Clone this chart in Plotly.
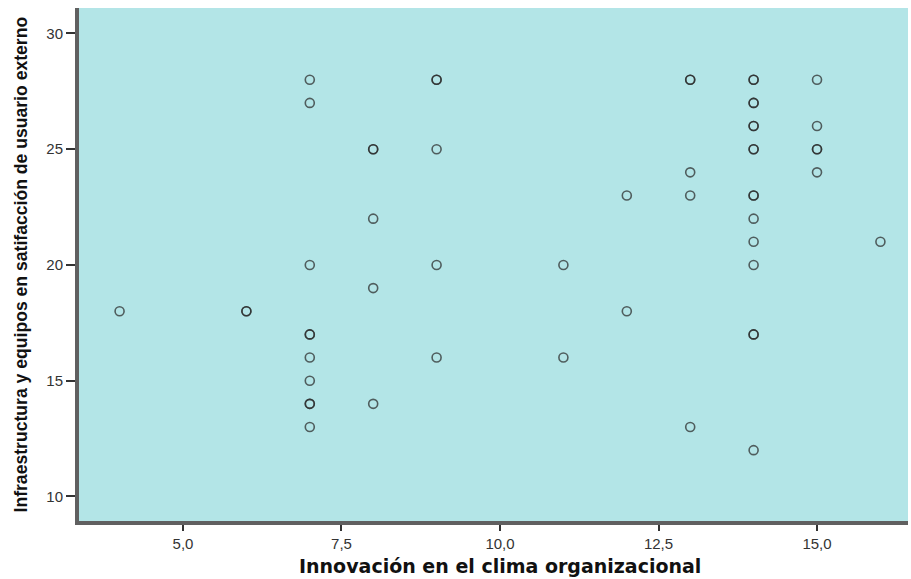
import plotly.graph_objects as go

innovacion = [4, 6, 6,
              7, 7, 7, 7, 7, 7, 7, 7, 7, 7,
              8, 8, 8, 8, 8,
              9, 9, 9, 9, 9,
              11, 11,
              12, 12,
              13, 13, 13, 13, 13,
              14, 14, 14, 14, 14, 14, 14, 14, 14, 14, 14, 14, 14, 14, 14, 14,
              15, 15, 15, 15, 15,
              16]
infraestructura = [18, 18, 18,
                   28, 27, 20, 17, 17, 16, 15, 14, 14, 13,
                   25, 25, 22, 19, 14,
                   28, 28, 25, 20, 16,
                   20, 16,
                   23, 18,
                   28, 28, 24, 23, 13,
                   28, 28, 27, 27, 26, 26, 25, 25, 23, 23, 22, 21, 20, 17, 17, 12,
                   28, 26, 25, 25, 24,
                   21]

x_ticks = [5, 7.5, 10, 12.5, 15]
x_tick_labels = ["5,0", "7,5", "10,0", "12,5", "15,0"]
y_ticks = [10, 15, 20, 25, 30]
y_tick_labels = ["10", "15", "20", "25", "30"]

x_title = "Innovación en el clima organizacional"
y_title = "Infraestructura y equipos en satifacción de usuario externo"

fig = go.Figure()
fig.add_trace(go.Scatter(
    x=innovacion, y=infraestructura, mode="markers",
    marker=dict(symbol="circle-open", size=9, color="rgba(40,40,40,0.72)",
                line=dict(width=1.6)),
    showlegend=False, hoverinfo="x+y",
))

fig.update_layout(
    width=911, height=579,
    margin=dict(l=79, r=3, t=8, b=58),
    plot_bgcolor="#b3e5e7",
    paper_bgcolor="white",
    font=dict(family="Liberation Sans, Arial, sans-serif", color="#222"),
    xaxis=dict(
        range=[3.36, 16.435], tickvals=x_ticks, ticktext=x_tick_labels,
        showgrid=False, zeroline=False, showline=True, linecolor="#606060",
        linewidth=4, ticks="outside", ticklen=6, tickcolor="#333", tickwidth=1.5,
        tickfont=dict(size=15, color="#333"), automargin=False,
    ),
    yaxis=dict(
        range=[8.94, 31.10], tickvals=y_ticks, ticktext=y_tick_labels,
        showgrid=False, zeroline=False, showline=True, linecolor="#606060",
        linewidth=4, ticks="outside", ticklen=9, tickcolor="#333", tickwidth=1.5,
        tickfont=dict(size=15, color="#333"), automargin=False,
    ),
    annotations=[
        dict(text=x_title, xref="paper", yref="paper", x=0.508, y=0,
             yshift=-45, xanchor="center", yanchor="middle", showarrow=False,
             font=dict(size=19, family="DejaVu Sans, sans-serif", weight="bold", color="#111")),
        dict(text=y_title, xref="paper", yref="paper", x=0, y=0.5,
             xshift=-59, textangle=-90, xanchor="center", yanchor="middle", showarrow=False,
             font=dict(size=17.6, family="Liberation Sans Narrow, Liberation Sans, Arial, sans-serif",
                       weight="bold", color="#111")),
    ],
)

fig.write_html("out.html", config={"displayModeBar": False},
               post_script="document.body.style.margin='0';document.body.style.overflow='hidden';")
